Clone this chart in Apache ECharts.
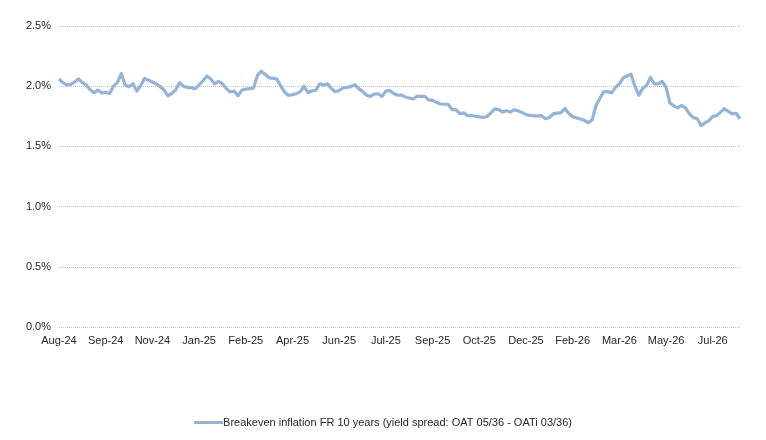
<!DOCTYPE html>
<html>
<head>
<meta charset="utf-8">
<script src="https://cdn.jsdelivr.net/npm/echarts@6/dist/echarts.min.js"></script>
<style>
  html, body { margin: 0; padding: 0; background: #fff; }
  #main { width: 766px; height: 440px; }
</style>
</head>
<body>
<div id="main"></div>
<script>
// x axis labels, one every 12 points
const tickLabels = ["Aug-24", "Sep-24", "Nov-24", "Jan-25", "Feb-25", "Apr-25", "Jun-25", "Jul-25",
  "Sep-25", "Oct-25", "Dec-25", "Feb-26", "Mar-26", "May-26", "Jul-26"];
const pointsPerTick = 12;

// breakeven inflation, %
const breakeven = [
  2.06, 2.03, 2.01, 2.015, 2.035, 2.06, 2.03, 2.01, 1.97, 1.946,
  1.968, 1.945, 1.95, 1.94, 2.0, 2.03, 2.105, 2.01, 1.995, 2.02,
  1.96, 2.005, 2.065, 2.05, 2.035, 2.018, 1.996, 1.968, 1.92, 1.94,
  1.97, 2.03, 2.0, 1.99, 1.988, 1.98, 2.01, 2.045, 2.085, 2.06,
  2.02, 2.04, 2.02, 1.98, 1.952, 1.96, 1.92, 1.968, 1.975, 1.98,
  1.985, 2.09, 2.125, 2.098, 2.07, 2.065, 2.06, 2.0, 1.95,
  1.923, 1.93, 1.938, 1.955, 2.0, 1.946, 1.962, 1.965, 2.02, 2.009,
  2.02, 1.98, 1.954, 1.965, 1.985, 1.99, 1.996, 2.012, 1.98, 1.957,
  1.926, 1.915, 1.935, 1.937, 1.915, 1.96, 1.965, 1.94, 1.925, 1.928,
  1.91, 1.902, 1.894, 1.916, 1.917, 1.915, 1.886, 1.882, 1.866, 1.852,
  1.85, 1.85, 1.806, 1.806, 1.772, 1.778, 1.756, 1.757, 1.75, 1.745,
  1.74, 1.748, 1.778, 1.812, 1.805, 1.785, 1.797, 1.785, 1.805,
  1.795, 1.782, 1.764, 1.758, 1.755, 1.753, 1.755, 1.73, 1.74, 1.77,
  1.776, 1.78, 1.815, 1.773, 1.746, 1.737, 1.728, 1.717, 1.698, 1.72,
  1.84, 1.90, 1.955, 1.955, 1.945, 1.99, 2.02, 2.07, 2.085, 2.1,
  2.0, 1.925, 1.982, 2.007, 2.072, 2.02, 2.02, 2.04, 1.99, 1.86,
  1.835, 1.82, 1.84, 1.82, 1.77, 1.74, 1.73, 1.673, 1.695, 1.714,
  1.75, 1.755, 1.785, 1.813, 1.79, 1.77, 1.775, 1.73
];
const categories = breakeven.map((v, i) => i);

const seriesName = "Breakeven inflation FR 10 years (yield spread: OAT 05/36 - OATi 03/36)";
const font = "'Liberation Sans', Arial, sans-serif";

var myChart = echarts.init(document.getElementById("main"), null, { renderer: "canvas" });
var option = {
  animation: false,
  backgroundColor: "#fff",
  textStyle: { fontFamily: font },
  grid: { left: 59, right: 26, top: 26, bottom: 113, containLabel: false, outerBoundsMode: "none" },
  legend: {
    data: [{ name: seriesName, icon: "rect", itemStyle: { color: "#95b3d7" } }],
    top: 412,
    left: "center",
    itemWidth: 29,
    itemHeight: 3,
    textStyle: { fontFamily: font, fontSize: 11, color: "#262626", padding: [0, 0, 0, -5] },
  },
  xAxis: {
    type: "category",
    data: categories,
    boundaryGap: false,
    axisLine: { show: false },
    axisTick: { show: false },
    axisLabel: {
      interval: pointsPerTick - 1,
      margin: 8,
      fontSize: 11,
      fontFamily: font,
      color: "#262626",
      formatter: function (value, index) {
        return tickLabels[index / pointsPerTick];
      },
    },
  },
  yAxis: {
    type: "value",
    min: 0,
    max: 2.5,
    interval: 0.5,
    axisLine: { show: false },
    axisTick: { show: false },
    axisLabel: {
      margin: 8,
      fontSize: 11,
      fontFamily: font,
      color: "#262626",
      formatter: function (v) {
        return v.toFixed(1) + "%";
      },
    },
    splitLine: { lineStyle: { color: "#c4c4c4", width: 1, type: [1, 1] } },
  },
  series: [
    {
      name: seriesName,
      type: "line",
      data: breakeven,
      symbol: "none",
      lineStyle: { color: "#95b3d7", width: 3.2, join: "round" },
      itemStyle: { color: "#95b3d7" },
    },
  ],
};
option && myChart.setOption(option);
</script>
</body>
</html>
